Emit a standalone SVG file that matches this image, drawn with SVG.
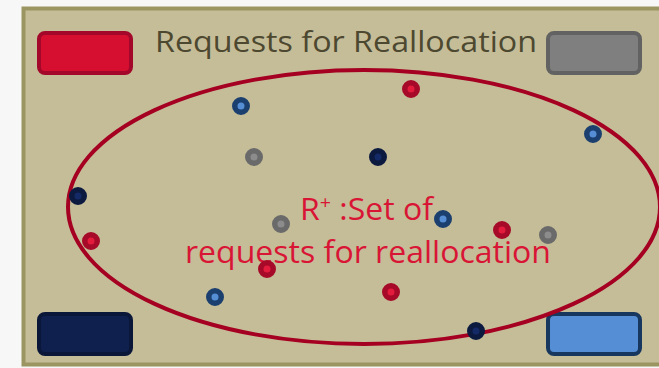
<svg xmlns="http://www.w3.org/2000/svg" width="659" height="368" viewBox="0 0 659 368">
  <style>
    .title { font-family: "Open Sans", "Noto Sans", "Liberation Sans", sans-serif; font-size: 30px; fill: #4d4830; }
    .label { font-family: "Open Sans", "Noto Sans", "Liberation Sans", sans-serif; font-size: 31px; fill: #d91535; }
    .box { stroke-width: 4; }
    .dot { stroke-width: 5.5; }
  </style>
  <rect x="0" y="0" width="659" height="368" fill="#f7f7f7"/>
  <!-- panel -->
  <rect x="23.5" y="8.5" width="640" height="356" fill="#c5bd98" stroke="#9b9562" stroke-width="4"/>

  <g id="title"><text class="title" x="155" y="52" textLength="382" lengthAdjust="spacingAndGlyphs">Requests for Reallocation</text></g>

  <g id="legend-red"><rect class="box" x="39" y="33" width="92" height="40" rx="6" fill="#d60f30" stroke="#a3082a"/></g>
  <g id="legend-gray"><rect class="box" x="548" y="33" width="92" height="40" rx="6" fill="#7f7f7f" stroke="#626262"/></g>
  <g id="legend-navy"><rect class="box" x="39" y="314" width="92" height="40" rx="6" fill="#0f1f4e" stroke="#0b1739"/></g>
  <g id="legend-blue"><rect class="box" x="548" y="314" width="92" height="40" rx="6" fill="#558ed5" stroke="#17375e"/></g>

  <g id="connectors">
    <ellipse cx="364" cy="207" rx="296" ry="137" fill="none" stroke="#a50021" stroke-width="4"/>
  </g>

  <g id="set-label">
    <text class="label" x="300" y="220" textLength="133" lengthAdjust="spacingAndGlyphs">R<tspan font-size="19" dy="-11">+</tspan><tspan dy="11"> :Set of</tspan></text>
    <text class="label" x="185" y="263" textLength="366" lengthAdjust="spacingAndGlyphs">requests for reallocation</text>
  </g>

  <g id="requests">
    <g fill="#558ed5" stroke="#1b3f6e" class="dot">
      <circle cx="241" cy="106" r="6.25"/>
      <circle cx="593" cy="134" r="6.25"/>
      <circle cx="443" cy="219" r="6.25"/>
      <circle cx="215" cy="297" r="6.25"/>
    </g>
    <g fill="#e31b3d" stroke="#a60a28" class="dot">
      <circle cx="411" cy="89" r="6.25"/>
      <circle cx="91" cy="241" r="6.25"/>
      <circle cx="502" cy="230" r="6.25"/>
      <circle cx="267" cy="269" r="6.25"/>
      <circle cx="391" cy="292" r="6.25"/>
    </g>
    <g fill="#8c8c8c" stroke="#6a6a6a" class="dot">
      <circle cx="254" cy="157" r="6.25"/>
      <circle cx="281" cy="224" r="6.25"/>
      <circle cx="548" cy="235" r="6.25"/>
    </g>
    <g fill="#142a66" stroke="#0c1a40" class="dot">
      <circle cx="378" cy="157" r="6.25"/>
      <circle cx="78" cy="196" r="6.25"/>
      <circle cx="476" cy="331" r="6.25"/>
    </g>
  </g>
</svg>
